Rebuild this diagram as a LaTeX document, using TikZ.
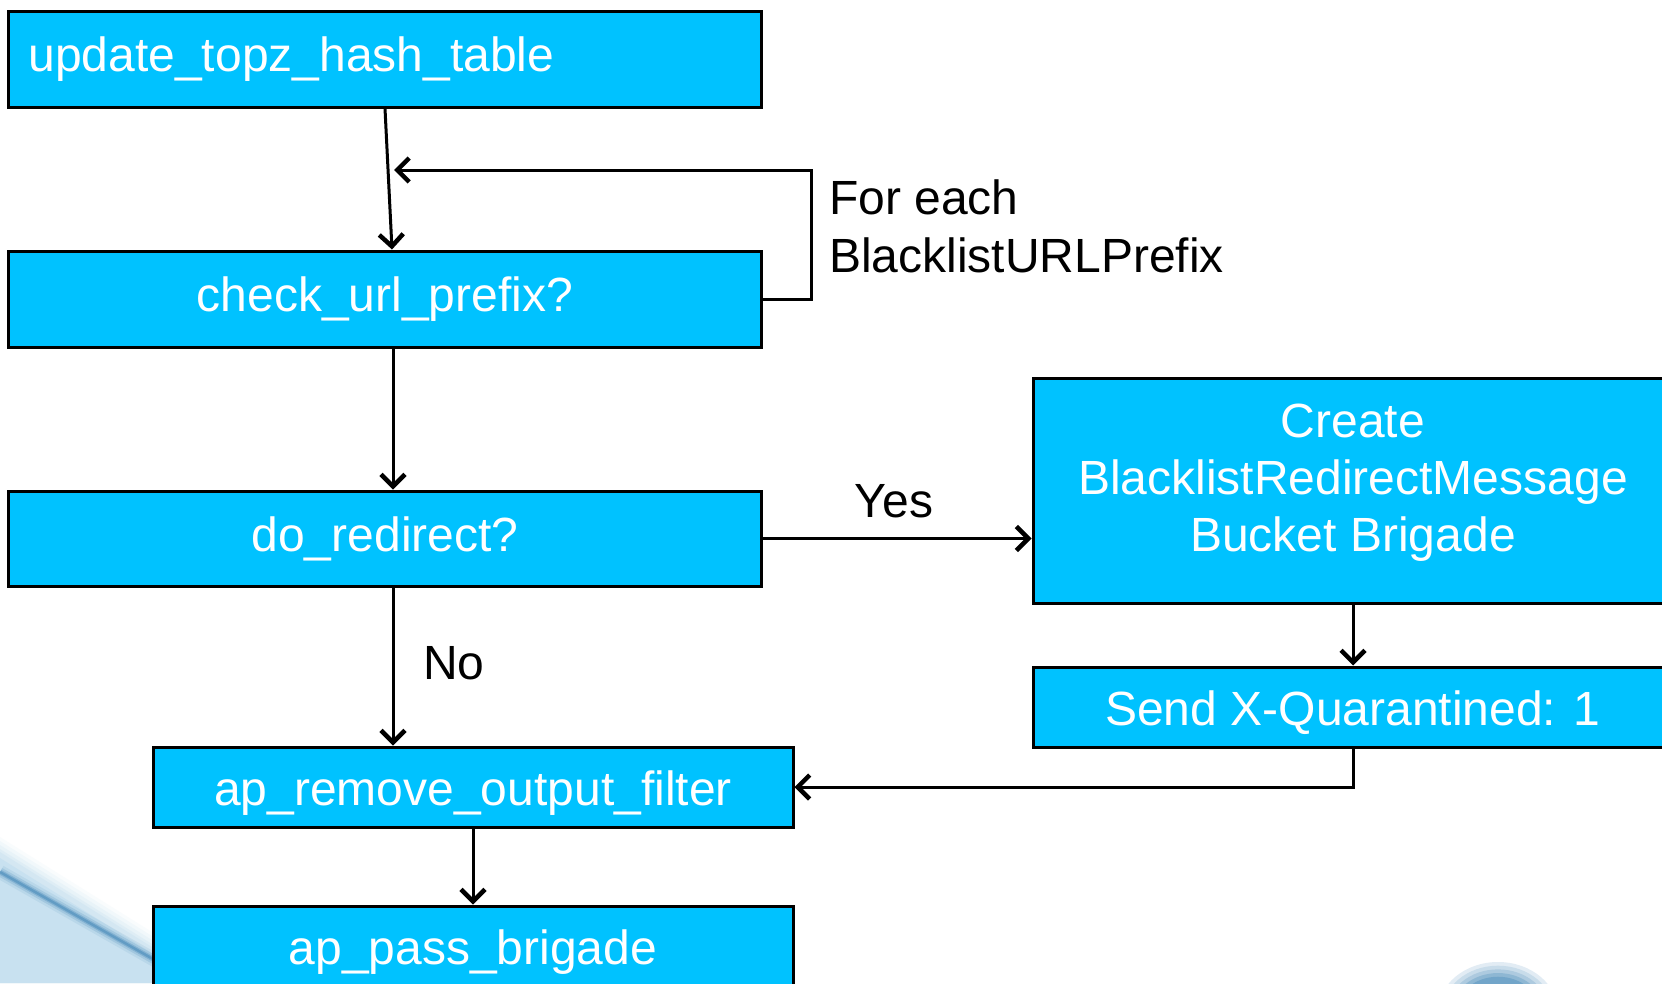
\documentclass[tikz,border=0pt]{standalone}
\usepackage{fontspec}
\setmainfont{Liberation Sans}
\usetikzlibrary{arrows.meta,calc}
\definecolor{boxblue}{RGB}{0,194,255}
\definecolor{decoblue}{RGB}{60,130,180}
\definecolor{decolight}{RGB}{190,220,238}
\begin{document}
\begin{tikzpicture}[x=1pt,y=-1pt,
  flowbox/.style={draw=black,line width=3pt,fill=boxblue,text=white,
    font=\fontsize{48}{57}\selectfont,inner sep=0pt,align=center},
  lowtext/.style={text height=40pt,text depth=4pt},
  flowlbl/.style={text=black,font=\fontsize{48}{58}\selectfont,inner sep=0pt,align=left},
  conn/.style={line width=3pt,-{Straight Barb[length=12pt,width=24pt,line width=4.5pt]}}]
\useasboundingbox (0,0) rectangle (1662,983);
\fill[white] (0,0) rectangle (1662,983);

% soft background decoration, bottom corners
\begin{scope}
  \clip (0,0) rectangle (1662,983);
  % bottom-left: pale panel under a blurred diagonal edge
  \foreach \d/\o in {18/0.08,14/0.12,10/0.16,6/0.22,3/0.3} {
    \fill[decolight,opacity=\o] (0,855-\d) -- (160,955-\d) -- (160,983) -- (0,983) -- cycle;
  }
  \fill[decolight!85!white] (0,858) -- (160,958) -- (160,983) -- (0,983) -- cycle;
  \foreach \w/\o in {14/0.10,9/0.18,5/0.3,2.5/0.45} {
    \draw[decoblue,line width=\w pt,opacity=\o] (0,872) -- (160,963);
  }
  % bottom-right: glowing rim of a round shape
  \foreach \r/\c in {1/15,0.92/28,0.84/42,0.76/58,0.68/72} {
    \fill[decoblue!\c!white] (1498,1012) ellipse [x radius=56*\r+4, y radius=46*\r+4];
  }
\end{scope}

% boxes
\node[flowbox,minimum width=753,minimum height=96,text width=713,align=left,
  inner xsep=20pt] (upd) at (385,59) {update\_topz\_hash\_table};
\node[flowbox,minimum width=753,minimum height=96] (chk) at (385,299) {check\_url\_prefix?};
\node[flowbox,minimum width=753,minimum height=95] (red) at (385,538.5) {do\_redirect?};
\node[flowbox,minimum width=640,minimum height=225,
  label={[flowbox,draw=none,fill=none,yshift=8pt]center:Create\\BlacklistRedirectMessage\\Bucket Brigade}]
  (crt) at (1353,490.5) {};
\node[flowbox,lowtext,minimum width=640,minimum height=80] (snd) at (1353,707) {Send X-Quarantined: 1};
\node[flowbox,lowtext,minimum width=640,minimum height=80] (rem) at (473,787) {ap\_remove\_output\_filter};
\node[flowbox,lowtext,minimum width=640,minimum height=80] (pass) at (473,946) {ap\_pass\_brigade};

% labels
\node[flowlbl,anchor=west] (each) at (829,226) {For each\\BlacklistURLPrefix};
\node[flowlbl] (yes) at (894,501) {Yes};
\node[flowlbl] (no) at (454,663) {No};

% connectors
\coordinate (loopin) at (394,170);
\coordinate (nofrom) at ($(red.south)+(8,0)$);
\draw[conn] (upd.south) -- ($(chk.north)+(7,0)$);
\draw[conn] (chk.east) -- ++(48,0) |- (loopin);
\draw[conn] ($(chk.south)+(8,0)$) -- ($(red.north)+(8,0)$);
\draw[conn] (red.east) -- (red.east -| crt.west);
\draw[conn] (nofrom) -- (nofrom |- rem.north);
\draw[conn] (crt.south) -- (snd.north);
\draw[conn] (snd.south) |- (rem.east);
\draw[conn] (rem.south) -- (pass.north);
\end{tikzpicture}
\end{document}
